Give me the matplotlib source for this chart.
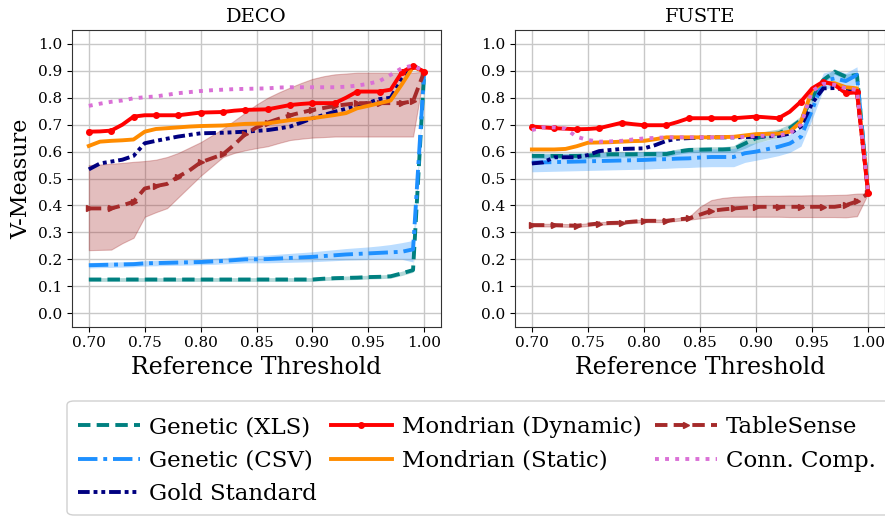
import matplotlib
matplotlib.use("Agg")
import matplotlib.pyplot as plt
from matplotlib.patches import FancyBboxPatch

plt.rcParams['font.family'] = ['DejaVu Serif']

thresholds = [0.70, 0.71, 0.72, 0.73, 0.74, 0.75, 0.76, 0.77, 0.78, 0.79, 0.80,
              0.81, 0.82, 0.83, 0.84, 0.85, 0.86, 0.87, 0.88, 0.89, 0.90,
              0.91, 0.92, 0.93, 0.94, 0.95, 0.96, 0.97, 0.98, 0.99, 1.00]

# ---------------- DECO ----------------
deco_xls = [.125, .125, .125, .125, .125, .125, .125, .125, .125, .125, .125,
            .125, .125, .125, .125, .125, .125, .125, .125, .125, .125,
            .128, .130, .131, .132, .134, .135, .137, .148, .160, .897]
deco_xls_lo = [.118, .118, .118, .118, .118, .118, .118, .118, .118, .118, .118,
               .118, .118, .118, .118, .118, .118, .118, .118, .118, .118,
               .121, .123, .124, .125, .127, .128, .130, .140, .152, .897]
deco_xls_hi = [.132, .132, .132, .132, .132, .132, .132, .132, .132, .132, .132,
               .132, .132, .132, .132, .132, .132, .132, .132, .132, .132,
               .135, .137, .138, .139, .141, .142, .144, .156, .168, .897]
deco_csv = [.178, .179, .180, .181, .182, .185, .186, .187, .188, .189, .190,
            .192, .194, .197, .200, .200, .201, .203, .205, .207, .209,
            .212, .215, .218, .220, .222, .224, .226, .228, .237, .897]
deco_csv_lo = [.168, .169, .170, .171, .172, .175, .176, .177, .178, .179, .180,
               .181, .183, .185, .187, .187, .187, .188, .189, .190, .191,
               .193, .195, .197, .198, .199, .200, .200, .200, .190, .897]
deco_csv_hi = [.188, .189, .190, .191, .192, .195, .196, .197, .198, .199, .200,
               .203, .206, .209, .213, .214, .216, .219, .222, .225, .228,
               .232, .236, .240, .243, .246, .250, .255, .262, .270, .897]
deco_gold = [.534, .556, .563, .570, .584, .631, .640, .648, .656, .662, .668,
             .669, .670, .672, .674, .677, .680, .686, .693, .708, .724,
             .736, .748, .759, .770, .781, .795, .800, .870, .920, .897]
deco_dyn = [.674, .675, .678, .700, .730, .735, .735, .735, .735, .740, .745,
            .746, .747, .752, .755, .756, .757, .765, .773, .777, .780,
            .780, .780, .800, .823, .823, .823, .830, .895, .918, .897]
deco_static = [.621, .637, .640, .642, .645, .674, .684, .687, .690, .693, .695,
               .696, .697, .700, .703, .704, .705, .711, .717, .720, .724,
               .730, .736, .743, .761, .770, .780, .790, .850, .915, .897]
deco_ts = [.389, .389, .389, .400, .414, .463, .472, .480, .507, .530, .560,
           .575, .590, .625, .665, .690, .708, .722, .735, .745, .755,
           .762, .770, .775, .780, .780, .780, .780, .780, .787, .897]
deco_ts_lo = [.234, .235, .236, .260, .280, .358, .375, .390, .430, .470, .510,
              .545, .580, .595, .605, .613, .620, .632, .643, .648, .652,
              .654, .656, .656, .656, .656, .656, .656, .656, .656, .897]
deco_ts_hi = [.550, .552, .555, .558, .562, .565, .570, .580, .595, .615, .635,
              .660, .685, .715, .745, .775, .800, .820, .838, .855, .870,
              .880, .887, .890, .893, .893, .893, .893, .893, .893, .897]
deco_cc = [.770, .778, .785, .790, .798, .802, .805, .811, .817, .821, .825,
           .828, .830, .832, .833, .834, .835, .838, .839, .839, .839,
           .839, .839, .841, .845, .852, .862, .885, .910, .920, .897]

# ---------------- FUSTE ----------------
fuste_xls = [.584, .584, .584, .584, .584, .585, .588, .590, .590, .590, .591,
             .591, .591, .600, .606, .607, .608, .608, .610, .630, .650,
             .660, .668, .687, .717, .800, .866, .897, .878, .885, .445]
fuste_xls_lo = [.574, .574, .574, .574, .574, .575, .578, .580, .580, .580, .581,
                .581, .581, .590, .596, .597, .598, .598, .598, .612, .632,
                .643, .652, .672, .702, .790, .856, .887, .868, .875, .445]
fuste_xls_hi = [.594, .594, .594, .594, .594, .595, .598, .600, .600, .600, .601,
                .601, .601, .610, .616, .617, .618, .618, .622, .648, .668,
                .677, .684, .702, .732, .810, .876, .907, .888, .895, .445]
fuste_csv = [.559, .560, .561, .562, .563, .564, .565, .566, .567, .568, .569,
             .571, .572, .574, .575, .578, .580, .580, .580, .594, .600,
             .609, .618, .630, .655, .755, .862, .872, .862, .885, .445]
fuste_csv_lo = [.525, .526, .527, .528, .529, .530, .531, .532, .533, .534, .535,
                .537, .538, .540, .541, .543, .544, .544, .544, .560, .568,
                .576, .585, .597, .620, .720, .830, .842, .835, .850, .445]
fuste_csv_hi = [.590, .591, .592, .593, .594, .595, .596, .597, .598, .599, .600,
                .602, .603, .605, .606, .608, .610, .610, .612, .626, .633,
                .642, .652, .665, .690, .790, .892, .902, .892, .915, .445]
fuste_gold = [.556, .560, .579, .579, .579, .587, .602, .606, .610, .611, .612,
              .624, .640, .648, .650, .652, .653, .653, .653, .654, .655,
              .657, .658, .667, .693, .780, .835, .836, .830, .825, .445]
fuste_dyn = [.693, .690, .687, .685, .683, .684, .687, .697, .707, .702, .698,
             .698, .698, .710, .724, .724, .724, .724, .724, .727, .730,
             .727, .724, .748, .786, .835, .860, .848, .817, .820, .445]
fuste_static = [.608, .608, .608, .610, .620, .633, .634, .635, .637, .639, .640,
                .646, .653, .653, .653, .653, .653, .654, .655, .660, .665,
                .666, .667, .674, .711, .829, .856, .854, .839, .835, .445]
fuste_ts = [.327, .327, .327, .326, .325, .329, .333, .335, .336, .340, .343,
            .343, .343, .348, .352, .366, .380, .385, .389, .392, .395,
            .395, .395, .395, .395, .395, .395, .395, .401, .415, .445]
fuste_ts_lo = [.322, .322, .322, .321, .320, .324, .328, .330, .331, .335, .338,
               .338, .338, .343, .347, .352, .357, .358, .358, .358, .358,
               .358, .358, .357, .357, .357, .357, .357, .356, .360, .445]
fuste_ts_hi = [.332, .332, .332, .331, .330, .334, .338, .340, .341, .345, .348,
               .348, .348, .353, .357, .395, .420, .428, .432, .434, .435,
               .436, .436, .437, .437, .438, .438, .439, .440, .444, .445]
fuste_cc = [.680, .690, .690, .685, .655, .643, .637, .638, .640, .645, .649,
            .651, .653, .653, .653, .653, .653, .653, .653, .655, .658,
            .659, .660, .668, .700, .825, .852, .848, .835, .829, .445]

marks = [0, 2, 4, 6, 8, 10, 12, 14, 16, 18, 20, 22, 24, 26, 28, 29, 30]

panels = [
    ("DECO", deco_xls, deco_xls_lo, deco_xls_hi, deco_csv, deco_csv_lo, deco_csv_hi,
     deco_gold, deco_dyn, deco_static, deco_ts, deco_ts_lo, deco_ts_hi, deco_cc),
    ("FUSTE", fuste_xls, fuste_xls_lo, fuste_xls_hi, fuste_csv, fuste_csv_lo, fuste_csv_hi,
     fuste_gold, fuste_dyn, fuste_static, fuste_ts, fuste_ts_lo, fuste_ts_hi, fuste_cc),
]

fig = plt.figure(figsize=(8.85, 5.16), dpi=100)
ax1 = fig.add_axes([0.0814, 0.367, 0.4169, 0.574])
ax2 = fig.add_axes([0.582, 0.367, 0.418, 0.574])

lw = 2.8
for ax, p in zip([ax1, ax2], panels):
    (title, xls, xls_lo, xls_hi, csv, csv_lo, csv_hi,
     gold, dyn, static, ts, ts_lo, ts_hi, cc) = p
    ax.fill_between(thresholds, xls_lo, xls_hi, color='teal', alpha=0.3, lw=0)
    ax.fill_between(thresholds, csv_lo, csv_hi, color='dodgerblue', alpha=0.3, lw=0)
    ax.fill_between(thresholds, ts_lo, ts_hi, color='brown', alpha=0.3, lw=0.8)
    ax.plot(thresholds, xls, color='teal', lw=lw, dashes=(3.2, 1.6), label='Genetic (XLS)')
    ax.plot(thresholds, csv, color='dodgerblue', lw=lw, dashes=(5, 1.5, 1, 1.5), label='Genetic (CSV)')
    ax.plot(thresholds, gold, color='navy', lw=lw, dashes=(3, 1, 1, 1, 1, 1), label='Gold Standard')
    ax.plot(thresholds, ts, color='brown', lw=lw, dashes=(3.2, 1.6), marker='>', markersize=4.5,
            markevery=marks, label='TableSense')
    ax.plot(thresholds, static, color='darkorange', lw=lw, label='Mondrian (Static)')
    ax.plot(thresholds, dyn, color='red', lw=lw, marker='o', markersize=4,
            markevery=marks, label='Mondrian (Dynamic)')
    ax.plot(thresholds, cc, color='orchid', lw=lw, dashes=(1, 1.6), label='Conn. Comp.')

    ax.set_title(title, fontsize=14)
    ax.set_xlim(0.685, 1.015)
    ax.set_ylim(-0.05, 1.05)
    ax.set_xticks([0.70, 0.75, 0.80, 0.85, 0.90, 0.95, 1.00])
    ax.set_xticklabels(["0.70", "0.75", "0.80", "0.85", "0.90", "0.95", "1.00"])
    ax.set_yticks([0.0, 0.1, 0.2, 0.3, 0.4, 0.5, 0.6, 0.7, 0.8, 0.9, 1.0])
    ax.set_yticklabels(["0.0", "0.1", "0.2", "0.3", "0.4", "0.5", "0.6", "0.7", "0.8", "0.9", "1.0"])
    ax.tick_params(labelsize=11)
    ax.grid(True, color='#c8c8c8', lw=1)
    ax.set_axisbelow(True)
    ax.set_xlabel("Reference Threshold", fontsize=17)
    for s in ax.spines.values():
        s.set_color('#333333')

ax1.set_ylabel("V-Measure", fontsize=16)

# legend frame drawn separately so it can run off the right edge
frame = FancyBboxPatch((67 / 885, 1 - 515 / 516), (920 - 67) / 885, (515 - 401) / 516,
                       boxstyle='round,pad=0,rounding_size=0.008', transform=fig.transFigure,
                       fc='white', ec='#d0d0d0', lw=1)
fig.patches.append(frame)

h, l = ax1.get_legend_handles_labels()
order = ['Genetic (XLS)', 'Genetic (CSV)', 'Gold Standard', 'Mondrian (Dynamic)',
         'Mondrian (Static)', 'TableSense', 'Conn. Comp.']
hh = [h[l.index(o)] for o in order]
fig.legend(hh, order, loc='upper left', bbox_to_anchor=(78 / 885, 1 - 416 / 516),
           borderaxespad=0, borderpad=0, ncol=3, fontsize=16.5, handlelength=2.7,
           handletextpad=0.4, columnspacing=0.6, labelspacing=0.5, frameon=False)

plt.savefig('out.png', dpi=100)
